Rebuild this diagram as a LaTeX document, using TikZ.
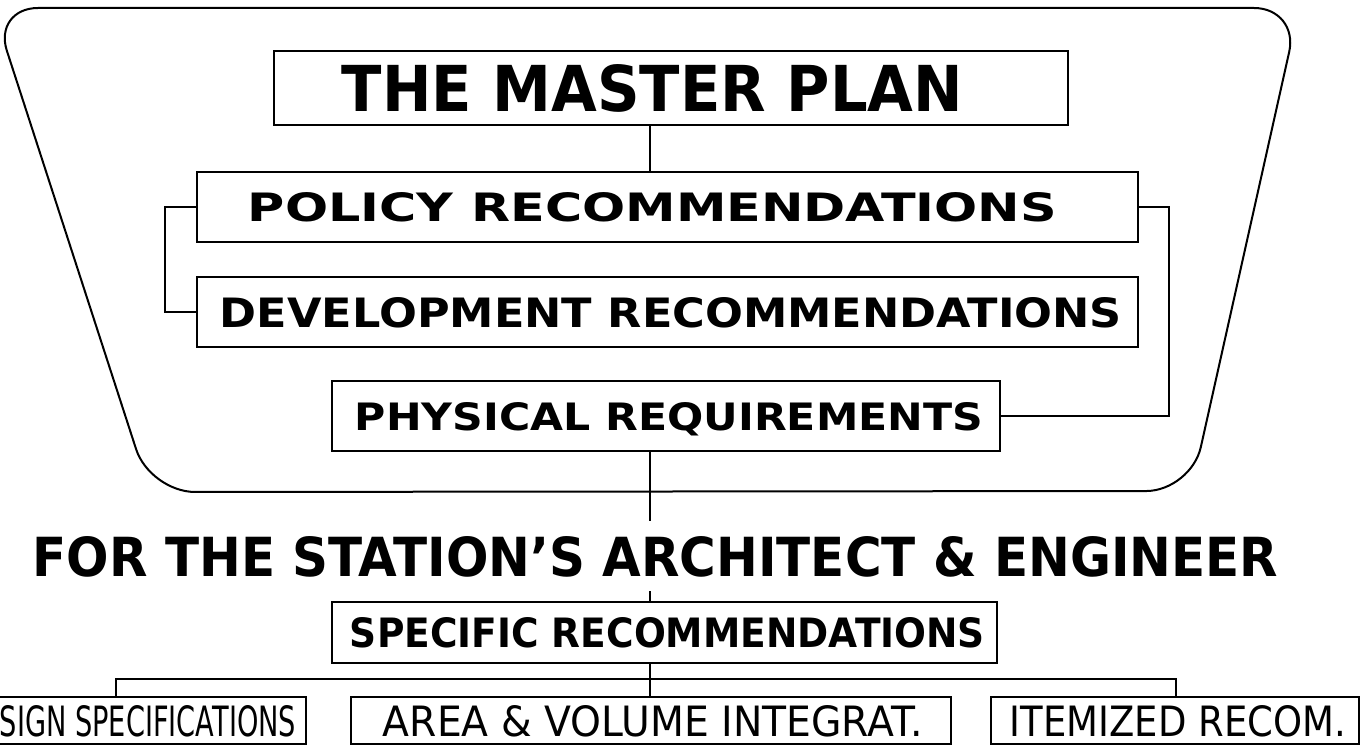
\documentclass[tikz,border=0pt]{standalone}
\usepackage{fontspec}
\usepackage{graphicx}
\setmainfont{DejaVu Sans}
\newcommand\bxt[5]{\hspace*{#1pt}\resizebox{#2pt}{#3pt}{#5}\hspace*{#4pt}}
\tikzset{
  planbox/.style={draw, line width=2pt, inner sep=0pt, text depth=0pt, font=\bfseries},
  thinbox/.style={draw, line width=2pt, inner sep=0pt, text depth=0pt},
  conn/.style={line width=1.8pt},
  frame/.style={line width=2pt, rounded corners=45pt}
}
\begin{document}
\begin{tikzpicture}[x=1pt,y=-1pt]
\useasboundingbox (0,0) rectangle (1366,746);
% outer trapezoid
\draw[frame] (650,8) -- (1299,8) -- (1191,491) -- (150,492) -- (-7,8) -- cycle;
\coordinate (spine) at (650,0);
% boxes
\node[planbox, minimum height=74pt, text height=47pt] (master) at (671,88)
  {\bxt{68}{621}{47}{105}{THE MASTER PLAN}};
\node[planbox, minimum height=70pt, text height=29pt] (policy) at (667.5,207)
  {\bxt{51}{809}{29}{81}{POLICY RECOMMENDATIONS}};
\node[planbox, minimum height=70pt, text height=30pt] (dev) at (667.5,312)
  {\bxt{23}{902}{30}{16}{DEVELOPMENT RECOMMENDATIONS}};
\node[planbox, minimum height=70pt, text height=28pt] (phys) at (666,416)
  {\bxt{23}{628}{28}{17}{PHYSICAL REQUIREMENTS}};
\node[inner xsep=0pt, inner ysep=15pt, text height=40pt, text depth=0pt, font=\bfseries] (head) at (655.5,556)
  {\resizebox{1245pt}{40pt}{FOR THE STATION’S ARCHITECT \& ENGINEER}};
\node[planbox, minimum height=61pt, text height=30pt] (spec) at (664.5,632.5)
  {\bxt{18}{635}{30}{12}{SPECIFIC RECOMMENDATIONS}};
\node[thinbox, minimum height=47pt, text height=31pt] (design) at (123,720.5)
  {\bxt{60}{296}{31}{10}{SIGN SPECIFICATIONS}};
\node[thinbox, minimum height=47pt, text height=31pt] (area) at (651,720.5)
  {\bxt{32}{540}{31}{28}{AREA \& VOLUME INTEGRAT.}};
\node[thinbox, minimum height=47pt, text height=31pt] (item) at (1175,720.5)
  {\bxt{19}{336}{31}{13}{ITEMIZED RECOM.}};
% connectors
\draw[conn] (master.south -| spine) -- (policy.north -| spine);
\coordinate (lb) at (165,0);
\coordinate (rb) at (1169,0);
\draw[conn] (policy.west) -- (policy.west -| lb) -- (dev.west -| lb) -- (dev.west);
\draw[conn] (policy.east) -- (policy.east -| rb) -- (phys.east -| rb) -- (phys.east);
\draw[conn] (phys.south -| spine) -- (head.north -| spine);
\draw[conn] (head.south -| spine) -- (spec.north -| spine);
\coordinate (jl) at (116,679);
\coordinate (jr) at (1176,679);
\draw[conn] (spec.south -| spine) -- (area.north -| spine);
\draw[conn] (design.north -| jl) -- (jl) -- (jr) -- (item.north -| jr);
\end{tikzpicture}
\end{document}
